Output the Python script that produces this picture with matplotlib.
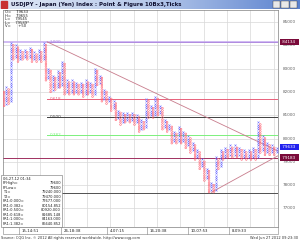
import matplotlib
matplotlib.use("Agg")
from matplotlib import pyplot as plt
from matplotlib.patches import Rectangle
from matplotlib.colors import LinearSegmentedColormap
import numpy as np

# point & figure chart, USDJPY, 10 tick boxes, 3 box reversal

BOX = 100
col_type = ("OXOXOXOXOXOXOXOXOXOX" "OXOXOXOXOXOXOXOXOXOX" "OXOXOXOXOXOXOXOXOXOX"
            "OXOXOXOXOXOXOXOXOXOX" "OXOXOXOXOXOXOXOXOXOX" "OXOXOXOXOXOXOXOXOXOX")
col_lo = [81400, 81500, 81500, 81600, 83400, 83500, 83300, 83400, 83400, 83500,
          83400, 83500, 83300, 83400, 83300, 83400, 83300, 83400, 82500, 82600,
          82000, 82100, 82100, 82200, 82200, 82300, 81900, 82000, 81900, 82000,
          81900, 82000, 81900, 82000, 81800, 81900, 81900, 82000, 81800, 81900,
          82300, 82400, 81600, 81700, 81500, 81600, 81200, 81300, 80800, 80900,
          80600, 80700, 80700, 80800, 80700, 80800, 80600, 80700, 80300, 80400,
          80400, 80500, 80900, 81000, 80900, 81000, 81000, 81100, 80400, 80500,
          80300, 80400, 79800, 79900, 79800, 79900, 79800, 79900, 79600, 79700,
          79400, 79500, 79100, 79200, 78700, 78800, 78200, 78300, 77700, 77800,
          77700, 77800, 78700, 78800, 79100, 79200, 79200, 79300, 79200, 79300,
          79200, 79300, 79100, 79200, 79100, 79200, 79100, 79200, 79100, 79200,
          79400, 79500, 79300, 79400, 79300, 79400, 79300, 79400]
col_hi = [82000, 82200, 82100, 84100, 84000, 84000, 83900, 83800, 83700, 83800,
          83700, 83900, 83800, 83700, 83600, 83800, 83700, 84100, 84000, 83000,
          82900, 82700, 82600, 82900, 82800, 83300, 83200, 82500, 82400, 82500,
          82400, 82400, 82300, 82400, 82300, 82500, 82400, 82400, 82300, 83000,
          82900, 82700, 82600, 82100, 82000, 81800, 81700, 81600, 81500, 81200,
          81100, 81100, 81000, 81100, 81000, 81100, 81000, 81000, 80900, 80800,
          80700, 81700, 81600, 81400, 81300, 81800, 81700, 81400, 81300, 80800,
          80700, 80600, 80500, 80300, 80200, 80500, 80400, 80300, 80200, 80100,
          80000, 79800, 79700, 79500, 79400, 79100, 79000, 78700, 78600, 78100,
          78000, 79200, 79100, 79500, 79400, 79600, 79500, 79700, 79600, 79700,
          79600, 79600, 79500, 79500, 79400, 79500, 79400, 79600, 79500, 80700,
          80600, 80100, 80000, 79800, 79700, 79700, 79600, 79600]

price_ticks = [77000, 78000, 79000, 80000, 81000, 82000, 83000, 84000, 85000]

fib_names = ["1.000", "0.618", "0.500", "0.382", "0.000"]
fib_values = [84163, 81685, 80920, 80155, 77677]
fib_colors = ["#b08ce0", "#e8607a", "#404040", "#7cf07c", "#505050"]

# trend lines: (column, price) pairs
trend_down = [(18.5, 84150), (117.6, 79460)]
trend_up = [(89.0, 77690), (117.6, 79260)]

marker_names = ["84134", "79633", "79183"]
marker_values = [84134, 79633, 79183]
marker_colors = ["#7a0a3a", "#2222ee", "#7a0a3a"]

date_labels = ["15-14:51", "26-18:38", "4-07:15", "16-20:38", "10-07:53", "8-09:33"]
date_pos = [19, 61, 107, 147, 188, 229]  # pixel positions of separators

header = ["O=    79633", "H=    79655", "L=    79545", "L=    79589*", "V=      +50"]
window_rows = [("06-27-12 01:34", ""), ("PFHigh=", "79600"), ("PFLow=", "79600"),
               ("T1=", "79240.000"), ("T2=", "79470.000"),
               ("FR1:0.000=", "77677.000"), ("FR1:0.382=", "80154.852"),
               ("FR1:0.500=", "80920.000"), ("FR1:0.618=", "81685.148"),
               ("FR1:1.000=", "84163.000"), ("FR1:1.382=", "86640.852")]

W, H = 300, 241
fig = plt.figure(figsize=(3.0, 2.41), dpi=100)
fig.patch.set_facecolor("white")

def fx(px):
    return px / W

def fy(py):
    return 1 - py / H

# title bar
tb = fig.add_axes([0, fy(9), 1, 9 / H])
grad = np.linspace(0, 1, 256).reshape(1, -1)
cm = LinearSegmentedColormap.from_list("tb", ["#dfe8f6", "#b7c9ea", "#5b82cf"])
tb.imshow(grad, aspect="auto", cmap=cm, extent=[0, 1, 0, 1])
tb.set_axis_off()
tb.add_patch(Rectangle((0.004, 0.15), 0.018, 0.7, color="#c83030"))
tb.text(0.035, 0.5, "USDJPY - Japan (Yen) Index : Point & Figure 10Bx3,Ticks",
        fontsize=3.9, fontweight="bold", va="center", ha="left", color="#101030")
for bx in [0.922, 0.950, 0.978]:
    tb.add_patch(Rectangle((bx - 0.012, 0.12), 0.024, 0.76, fc="#e8e8e8", ec="#404040", lw=0.3))

# main chart
ax_left, ax_right, ax_top, ax_bot = 3, 278, 10, 227
ax = fig.add_axes([fx(ax_left), fy(ax_bot), (ax_right - ax_left) / W, (ax_bot - ax_top) / H])
col_w = 2.33
x0 = -1.0 / col_w
ax.set_xlim(x0, x0 + (ax_right - ax_left) / col_w)
ppx = 23.3 / 1000.0
ax.set_ylim(85000 - (ax_bot - 22) / ppx, 85000 + (22 - ax_top) / ppx)

for v in price_ticks:
    ax.axhline(v, color="#d8d8d8", lw=0.5, zorder=0)
gx = 157
while gx > ax_left:
    gx -= 23.3
gx += 23.3
while gx < ax_right:
    ax.axvline(x0 + (gx - ax_left) / col_w, color="#d8d8d8", lw=0.5, zorder=0)
    gx += 23.3

for i, t in enumerate(col_type[:len(col_lo)]):
    vals = np.arange(col_lo[i], col_hi[i] + 1, BOX)
    xs = np.full(len(vals), i)
    if t == "X":
        ax.scatter(xs, vals, marker="x", s=2.0, lw=0.4, color="#7474ff", zorder=3)
    else:
        ax.scatter(xs, vals, marker="o", s=1.5, lw=0.4, facecolors="none",
                   edgecolors="#ff6070", zorder=3)

# full width lines
ax.axhline(marker_values[0], color="#c4a8f0", lw=1.1, zorder=2)
ax.axhline(marker_values[2], color="#a03060", lw=0.7, zorder=2)

fib_x = x0 + (47 - ax_left) / col_w
for name, v, c in zip(fib_names, fib_values, fib_colors):
    xmin = 0 if name == "0.000" else (fib_x - x0) / ((ax_right - ax_left) / col_w)
    ax.axhline(v, xmin=xmin, color=c, lw=0.7, zorder=2)
    if name != "0.000":
        ax.text(fib_x + 1.0, v, name, fontsize=3.0, color=c, va="center", ha="left", zorder=4)

for tl in [trend_down, trend_up]:
    ax.plot([p[0] for p in tl], [p[1] for p in tl], color="#c87c8c", lw=0.6, zorder=2)

ax.set_xticks([])
ax.set_yticks([])
for s in ax.spines.values():
    s.set_color("#808080")
    s.set_linewidth(0.5)

# right price axis
for v in price_ticks:
    ax.text(1.018, v, str(v), transform=ax.get_yaxis_transform(), fontsize=3.0,
            color="#606060", va="center", ha="left", clip_on=False)
for name, v, c in zip(marker_names, marker_values, marker_colors):
    ax.text(1.012, v, " " + name + "  ", transform=ax.get_yaxis_transform(), fontsize=3.0,
            color="white", va="center", ha="left", clip_on=False,
            bbox=dict(boxstyle="square,pad=0.25", fc=c, ec="none"))

# header values, top left
for k, line in enumerate(header):
    fig.text(fx(5), fy(12.3 + 3.4 * k), line, fontsize=2.7, color="#202020", va="center")

# data window
fig.patches.append(Rectangle((fx(1), fy(227)), fx(62) - fx(1), fy(175) - fy(227),
                             transform=fig.transFigure, fc="white", ec="#707070", lw=0.4, zorder=5))
for k, (a, b) in enumerate(window_rows):
    yy = fy(178.5 + 4.55 * k)
    fig.text(fx(3), yy, a, fontsize=2.6, color="#202020", va="center", zorder=6)
    if b:
        fig.text(fx(61), yy, b, fontsize=2.6, color="#202020", va="center", ha="right", zorder=6)

# date strip
fig.patches.append(Rectangle((fx(3), fy(234)), fx(ax_right) - fx(3), fy(227) - fy(234),
                             transform=fig.transFigure, fc="white", ec="#808080", lw=0.4))
for lab, p in zip(date_labels, date_pos):
    fig.add_artist(plt.Line2D([fx(p), fx(p)], [fy(234), fy(227)], color="#808080", lw=0.4))
    fig.text(fx(p + 3), fy(230.7), lab, fontsize=2.8, color="#202020", va="center")

fig.text(fx(1), fy(238.5), "Source: CQG Inc. \u00a9 2012 All rights reserved worldwide. http://www.cqg.com",
         fontsize=2.6, color="#303030", va="center")
fig.text(fx(298), fy(238.5), "Wed Jun 27 2012 09:23:30", fontsize=2.6, color="#303030",
         va="center", ha="right")

fig.savefig("out.png", dpi=100)
